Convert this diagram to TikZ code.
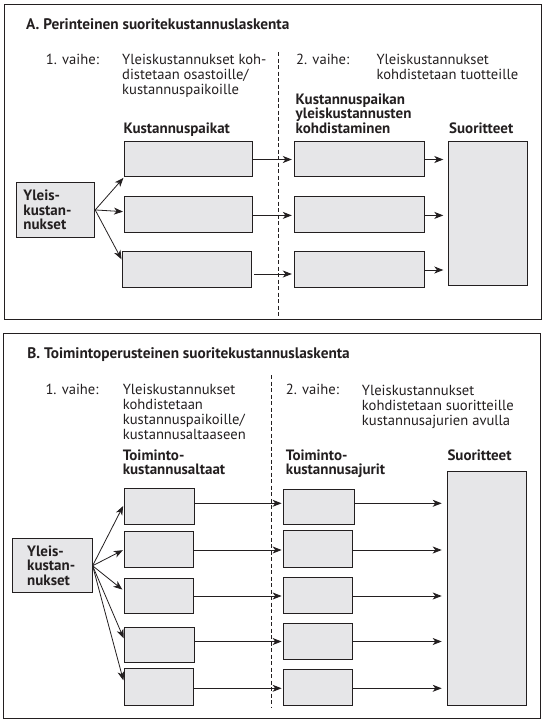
\documentclass[tikz,border=0pt]{standalone}
\usepackage{fontspec}
\setmainfont{PT Sans}
\usetikzlibrary{arrows.meta}
\definecolor{ink}{RGB}{35,31,32}
\definecolor{boxfill}{RGB}{230,230,232}
\tikzset{
  x=1pt, y=-1pt,
  frame/.style={draw=ink, line width=1pt, anchor=north west, inner sep=0pt},
  gbox/.style={draw=ink, fill=boxfill, line width=0.9pt, anchor=north west, inner sep=0pt},
  ybox/.style={gbox, align=left, text=ink, font=\bfseries\fontsize{15}{14.6}\selectfont},
  txt/.style={inner sep=0pt, anchor=base west, align=left, text=ink, font=\fontsize{14.6}{15}\selectfont},
  btxt/.style={txt, font=\bfseries\fontsize{15}{14.6}\selectfont},
  ttl/.style={txt, font=\bfseries\fontsize{15.3}{15}\selectfont},
  sep/.style={draw=ink, line width=0.7pt, dash pattern=on 4pt off 2.5pt},
  arr/.style={draw=ink, line width=0.8pt, -{Stealth[length=9pt,width=7pt,inset=2.6pt]}},
}
\begin{document}
\begin{tikzpicture}
\useasboundingbox (0,0) rectangle (545,723);
% ---------------- Panel A ----------------
\node[frame, minimum width=537.2pt, minimum height=315.8pt] (frameA) at (3.5,3.5) {};
\node[ttl] (titleA) at (26,29.3) {A. Perinteinen suoritekustannuslaskenta};
\node[txt] (stepA1) at (45.7,64.3) {1. vaihe:};
% multi-line nodes: base anchor = last line's baseline
\node[txt] (descA1) at (122,94.3) {Yleiskustannukset koh-\\distetaan osastoille/\\kustannuspaikoille};
\node[txt] (stepA2) at (296,64.3) {2. vaihe:};
\node[txt] (descA2) at (376.3,79.3) {Yleiskustannukset\\kohdistetaan tuotteille};
\node[btxt] (headA1) at (123.3,133.3) {Kustannuspaikat};
\node[btxt] (headA2) at (295.5,133.3) {Kustannuspaikan\\yleiskustannusten\\kohdistaminen};
\node[btxt] (headA3) at (449,133.3) {Suoritteet};
\coordinate (dAt) at (278.7,52);
\coordinate (dAb) at (278.7,316);
\draw[sep] (dAt) -- (dAb);

\node[ybox, minimum width=78.6pt, minimum height=55pt, inner xsep=7.3pt, text width=64pt] (ya) at (15.7,182) {Yleis-\\kustan-\\nukset};
\node[gbox, minimum width=128pt, minimum height=35.5pt] (a11) at (124.3,140.5) {};
\node[gbox, minimum width=128pt, minimum height=36.5pt] (a12) at (124.3,195.5) {};
\node[gbox, minimum width=129pt, minimum height=36.5pt] (a13) at (122,250.5) {};
\node[gbox, minimum width=130pt, minimum height=35.4pt] (a21) at (293.8,140.7) {};
\node[gbox, minimum width=130pt, minimum height=36.6pt] (a22) at (293.8,195.7) {};
\node[gbox, minimum width=130pt, minimum height=36.6pt] (a23) at (293.8,250.7) {};
\node[gbox, minimum width=79pt, minimum height=144.3pt] (sa) at (448.3,140.7) {};

\draw[arr, shorten >=1.3pt] (ya.east) -- (a11.south west);
\draw[arr, shorten >=1.3pt] (ya.east) -- ([yshift=2.5pt]a12.west);
\draw[arr, shorten >=1pt] (ya.east) -- ([yshift=9pt]a13.west);

\coordinate (yA1) at (0,159.5);
\coordinate (yA2) at (0,215.4);
\coordinate (yA3) at (0,274);
\coordinate (yA3s) at (0,270);
\draw[arr, shorten >=2pt] (a11.east |- yA1) -- (a21.west |- yA1);
\draw[arr, shorten >=2pt] (a12.east |- yA2) -- (a22.west |- yA2);
\draw[arr, shorten <=2.3pt, shorten >=2pt] (a13.east |- yA3) -- (a23.west |- yA3);
\draw[arr, shorten >=5pt] (a21.east |- yA1) -- (sa.west |- yA1);
\draw[arr, shorten >=5pt] (a22.east |- yA2) -- (sa.west |- yA2);
\draw[arr, shorten >=5pt] (a23.east |- yA3s) -- (sa.west |- yA3s);

% ---------------- Panel B ----------------
\node[frame, minimum width=537pt, minimum height=384.7pt] (frameB) at (3.3,333.3) {};
\node[ttl] (titleB) at (27.2,358.3) {B. Toimintoperusteinen suoritekustannuslaskenta};
\node[txt] (stepB1) at (45.3,394) {1. vaihe:};
\node[txt] (descB1) at (122.6,439) {Yleiskustannukset\\kohdistetaan\\kustannuspaikoille/\\kustannusaltaaseen};
\node[txt] (stepB2) at (285.7,394) {2. vaihe:};
\node[txt] (descB2) at (361.7,425.7) {Yleiskustannukset\\kohdistetaan suoritteille\\kustannusajurien avulla};
\node[btxt] (headB1) at (122.6,474.6) {Toiminto-\\kustannusaltaat};
\node[btxt] (headB2) at (285.7,474.6) {Toiminto-\\kustannusajurit};
\node[btxt] (headB3) at (447.3,460) {Suoritteet};
\coordinate (dBt) at (271,375);
\coordinate (dBb) at (271,708);
\draw[sep] (dBt) -- (dBb);

\node[ybox, minimum width=79.4pt, minimum height=54pt, inner xsep=14.4pt, text width=50.6pt] (yb) at (12.3,538.3) {Yleis-\\kustan-\\nukset};
\node[gbox, minimum width=70pt, minimum height=35.7pt] (b11) at (124.3,488.3) {};
\node[gbox, minimum width=69pt, minimum height=36.6pt] (b12) at (124.3,530.7) {};
\node[gbox, minimum width=69pt, minimum height=35.6pt] (b13) at (124.3,577.7) {};
\node[gbox, minimum width=70pt, minimum height=35.6pt] (b14) at (124.3,626.7) {};
\node[gbox, minimum width=69pt, minimum height=36.7pt] (b15) at (124.3,668.3) {};
\node[gbox, minimum width=71pt, minimum height=35.6pt] (b21) at (283.3,488.7) {};
\node[gbox, minimum width=69pt, minimum height=37pt] (b22) at (283.3,530.3) {};
\node[gbox, minimum width=69pt, minimum height=36pt] (b23) at (283.3,577.3) {};
\node[gbox, minimum width=69pt, minimum height=36pt] (b24) at (283.3,623.3) {};
\node[gbox, minimum width=69pt, minimum height=36.6pt] (b25) at (283.3,668.7) {};
\node[gbox, minimum width=79pt, minimum height=234.6pt] (sb) at (446.7,470.7) {};

\draw[arr, shorten >=2.5pt] (yb.east) -- ([yshift=2.85pt]b11.west);
\draw[arr, shorten >=1.6pt] (yb.east) -- (b12.west);
\draw[arr, shorten >=2.5pt] (yb.east) -- ([yshift=4.8pt]b13.west);
\draw[arr, shorten >=1.6pt] (yb.east) -- ([yshift=5.2pt]b14.west);
\draw[arr, shorten >=3.5pt] (yb.east) -- ([yshift=3.3pt]b15.west);

\coordinate (yB1) at (0,503.3);
\coordinate (yB2) at (0,550);
\coordinate (yB3) at (0,596);
\coordinate (yB4) at (0,641.5);
\coordinate (yB5) at (0,688.3);
\draw[arr, shorten >=1.7pt] (b11.east |- yB1) -- (b21.west |- yB1);
\draw[arr, shorten >=1.7pt] (b12.east |- yB2) -- (b22.west |- yB2);
\draw[arr, shorten >=1.7pt] (b13.east |- yB3) -- (b23.west |- yB3);
\draw[arr, shorten >=1.7pt] (b14.east |- yB4) -- (b24.west |- yB4);
\draw[arr, shorten >=1.7pt] (b15.east |- yB5) -- (b25.west |- yB5);
\draw[arr, shorten >=5pt] (b21.east |- yB1) -- (sb.west |- yB1);
\draw[arr, shorten >=5pt] (b22.east |- yB2) -- (sb.west |- yB2);
\draw[arr, shorten >=5pt] (b23.east |- yB3) -- (sb.west |- yB3);
\draw[arr, shorten >=5pt] (b24.east |- yB4) -- (sb.west |- yB4);
\draw[arr, shorten >=5pt] (b25.east |- yB5) -- (sb.west |- yB5);
\end{tikzpicture}
\end{document}
